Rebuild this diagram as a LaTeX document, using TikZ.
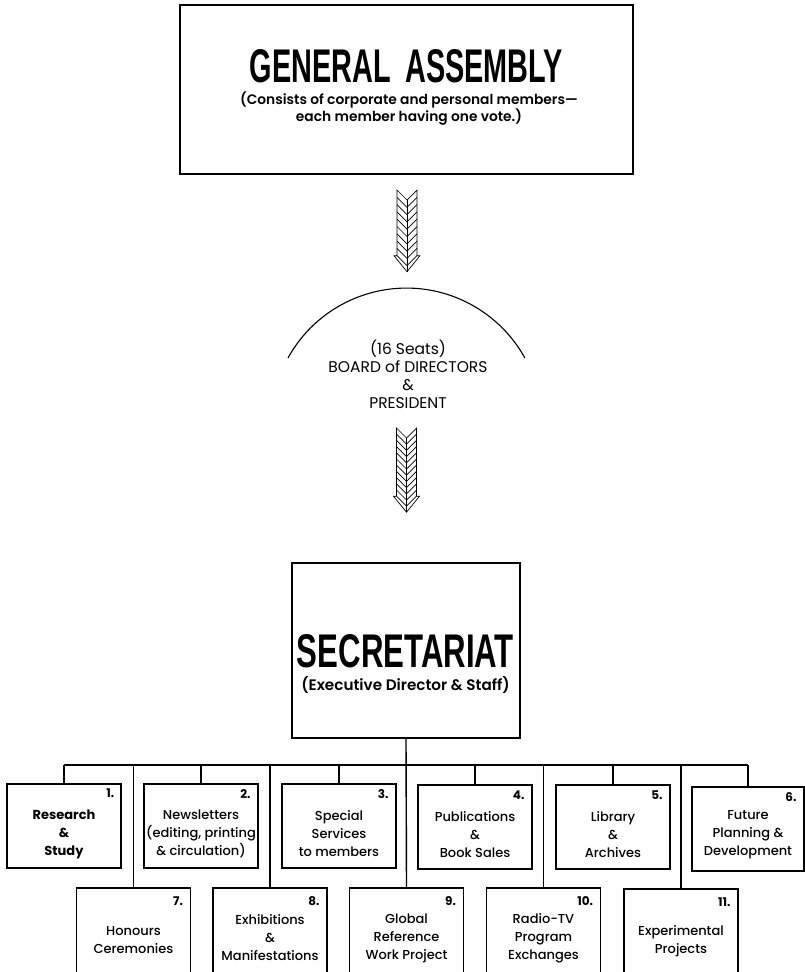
\documentclass[tikz,border=0pt]{standalone}
\usepackage{fontspec}
\setmainfont{Poppins}
\newfontfamily\titlefont{Liberation Sans}
\IfFontExistsTF{Poppins Medium}{\newfontfamily\medfont{Poppins Medium}[Ligatures=TeX]}{\def\medfont{}}
\IfFontExistsTF{Poppins SemiBold}{\newfontfamily\semifont{Poppins SemiBold}[Ligatures=TeX]}{\def\semifont{\bfseries}}
\usetikzlibrary{calc}
\tikzset{
  pics/feather/.style n args={2}{code={
    \pgfmathsetmacro\L{#1*#2}
    \draw[line width=0.7pt] (-10,0) -- (-10,\L) -- (-13,\L) -- (0,\L+16) -- (13,\L) -- (10,\L) -- (10,0) -- (0,10) -- cycle;
    \foreach \i in {1,...,#1}{\draw[line width=0.7pt] (-10,\i*#2) -- (0,\i*#2+10) -- (10,\i*#2);}
    \draw[line width=0.7pt] (0,10) -- (0,\L+16);
  }}
}
\begin{document}
\begin{tikzpicture}[x=1pt,y=-1pt,
  bigbox/.style={draw, line width=1.8pt, inner sep=0pt},
  unitbox/.style={draw, line width=1.4pt, minimum width=114pt, minimum height=84pt, inner sep=0pt},
  lowbox/.style={unitbox, minimum height=100pt},
  lab/.style={align=center, inner sep=0pt, font=\fontsize{13}{18}\selectfont\medfont},
  boldlab/.style={lab, font=\fontsize{13}{18}\selectfont\bfseries},
  num/.style={anchor=north east, inner sep=0pt, font=\fontsize{12}{14}\selectfont\bfseries},
  sub/.style={align=center, inner sep=0pt, font=\fontsize{13.8}{17}\selectfont\semifont},
  wire/.style={line width=1.4pt}
]
\useasboundingbox (0,0) rectangle (805,972);
\clip (0,0) rectangle (805,972);

% General Assembly
\node[bigbox, minimum width=453pt, minimum height=169pt] (ga) at (406.5,89.5) {};
\node (gatitle) at (406.5,66.5) {\resizebox{313pt}{33pt}{\titlefont\bfseries GENERAL\hspace{0.5em}ASSEMBLY}};
\node[sub] (gasub) at (409,108.5) {(Consists of corporate and personal members—\\each member having one vote.)};

% arrow 1
\pic at (407,190) {feather={9}{7.3}};

% Board
\draw[line width=1.1pt] (288,358) arc[start angle=208.9, end angle=331.1, radius=135.3];
\node[align=center, inner sep=0pt, font=\fontsize{15.5}{18}\selectfont] (board) at (408,374) {(16 Seats)\\BOARD of DIRECTORS\\\&\\PRESIDENT};

% arrow 2
\pic at (406.5,428) {feather={11}{6.2}};

% Secretariat
\node[bigbox, line width=1.4pt, minimum width=228pt, minimum height=175pt] (sec) at (406,650.5) {};
\node (sectitle) at (405.5,651.5) {\resizebox{217pt}{33pt}{\titlefont\bfseries SECRETARIAT}};
\node[sub, font=\fontsize{15.2}{17}\selectfont\semifont] (secsub) at (405.5,685) {(Executive Director \& Staff)};

% units row 1
\node[unitbox, line width=2.8pt] (u1) at (64,826) {};
\node[unitbox] (u2) at (201,826) {};
\node[unitbox] (u3) at (339,826) {};
\node[unitbox] (u4) at (475,827) {};
\node[unitbox] (u5) at (613,827) {};
\node[unitbox, minimum width=112pt] (u6) at (748,829) {};
% units row 2
\node[lowbox] (u7) at (133.5,938) {};
\node[lowbox] (u8) at (270,938) {};
\node[lowbox] (u9) at (406.5,938) {};
\node[lowbox] (u10) at (543.5,938) {};
\node[lowbox] (u11) at (681,939) {};

% labels
\node[boldlab] at ([yshift=-8pt]u1.center) {Research\\\&\\Study};
\node[lab] at ([yshift=-8pt]u2.center) {Newsletters\\(editing, printing\\\& circulation)};
\node[lab] at ([yshift=-8pt]u3.center) {Special\\Services\\to members};
\node[lab] at ([yshift=-8pt]u4.center) {Publications\\\&\\Book Sales};
\node[lab] at ([yshift=-8pt]u5.center) {Library\\\&\\Archives};
\node[lab] at ([yshift=-6pt]u6.center) {Future\\Planning \&\\Development};
\node[lab] at ([yshift=-2pt]u7.center) {Honours\\Ceremonies};
\node[lab] at (u8.center) {Exhibitions\\\&\\Manifestations};
\node[lab] at (u9.center) {Global\\Reference\\Work Project};
\node[lab] at (u10.center) {Radio-TV\\Program\\Exchanges};
\node[lab] at ([yshift=-2pt]u11.center) {Experimental\\Projects};

% numbers
\foreach \n in {1,...,6}{\node[num] at ([xshift=-8pt,yshift=-6pt]u\n.north east) {\n.};}
\foreach \n in {7,...,11}{\node[num] at ([xshift=-8pt,yshift=-9pt]u\n.north east) {\n.};}

% connectors
\coordinate (bus) at (406.5,765);
\draw[wire] (sec.south) -- (u9.north);
\draw[wire] (u1.north |- bus) -- (u6.north |- bus);
\foreach \n in {1,...,6}{\draw[wire] (u\n.north) -- (u\n.north |- bus);}
\foreach \n in {7,8,10,11}{\draw[wire] (u\n.north) -- (u\n.north |- bus);}
\end{tikzpicture}
\end{document}
